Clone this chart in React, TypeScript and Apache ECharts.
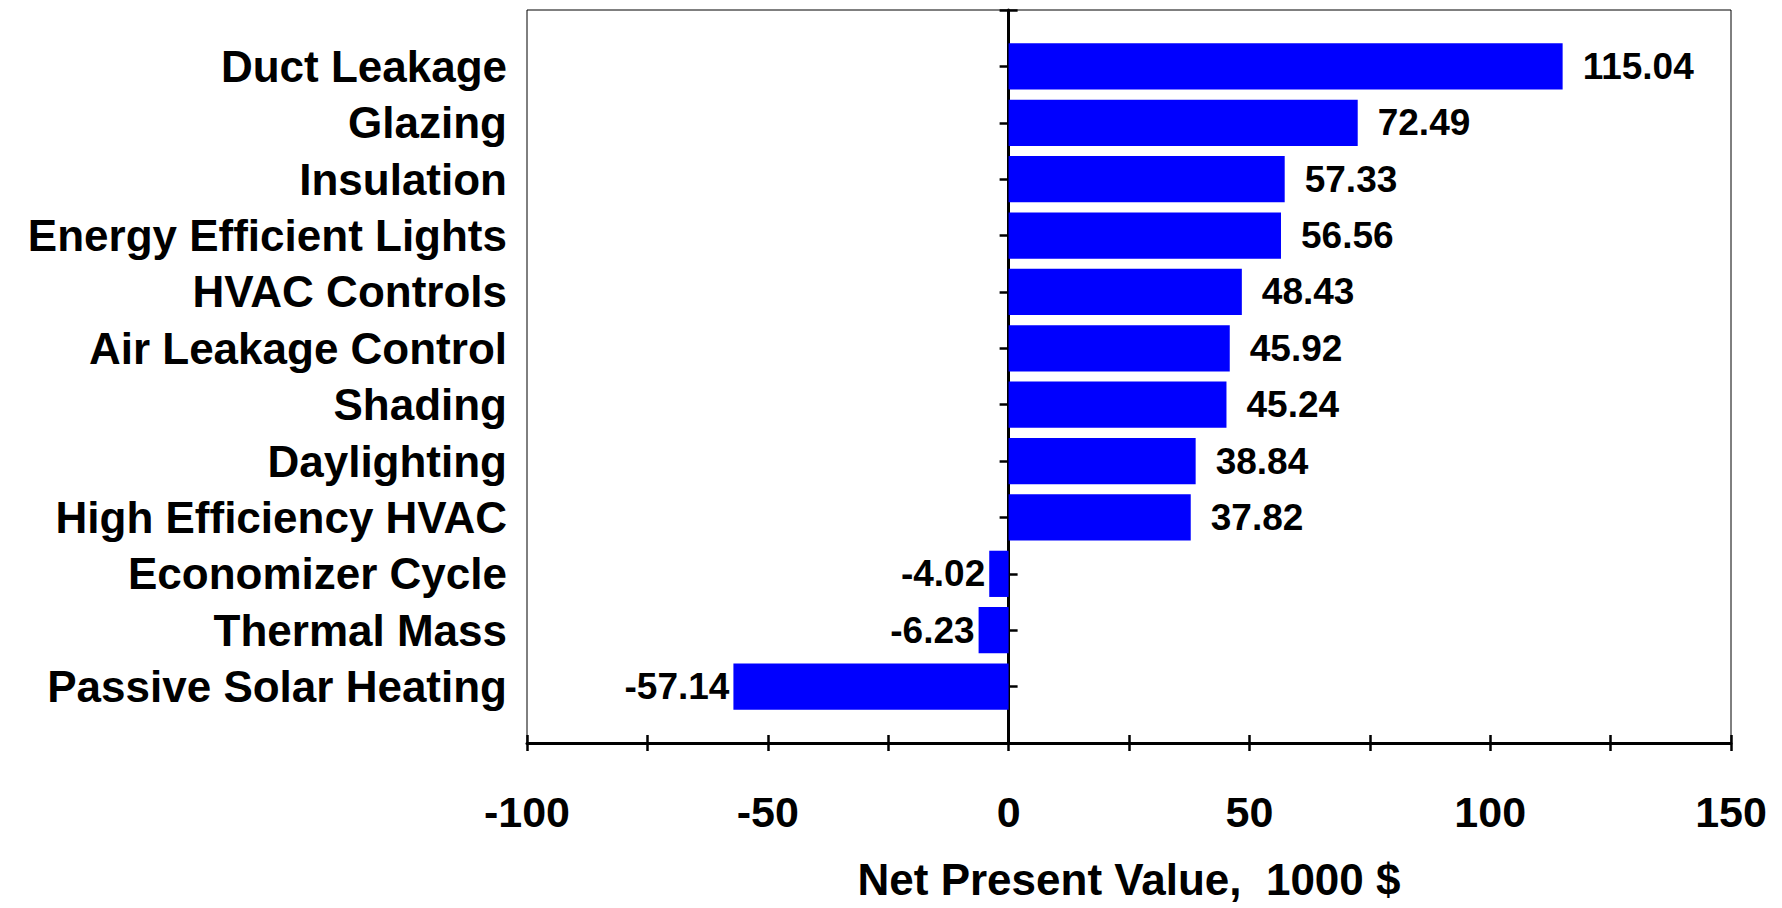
import React, { useEffect, useRef } from "react";
import * as echarts from "echarts";

const categories = [
  "Duct Leakage",
  "Glazing",
  "Insulation",
  "Energy Efficient Lights",
  "HVAC Controls",
  "Air Leakage Control",
  "Shading",
  "Daylighting",
  "High Efficiency HVAC",
  "Economizer Cycle",
  "Thermal Mass",
  "Passive Solar Heating",
];

const npvValues = [115.04, 72.49, 57.33, 56.56, 48.43, 45.92, 45.24, 38.84, 37.82, -4.02, -6.23, -57.14];

const xMin = -100;
const xMax = 150;
const xTickStep = 25;
const xLabelStep = 50;
const xAxisTitle = "Net Present Value,  1000 $";

const FONT = "'Liberation Sans', Arial, sans-serif";

export default function App() {
  const ref = useRef<HTMLDivElement>(null);

  useEffect(() => {
    document.body.style.margin = "0";
    if (!ref.current) return;
    const chart = echarts.init(ref.current, null, { renderer: "svg" });

    // padded category slots so bars sit on the tick marks like the original
    const axisData = ["", ...categories, ""];
    const seriesData: any[] = [
      null,
      ...npvValues.map((v) => ({
        value: v,
        label: {
          position: v < 0 ? "left" : "right",
          distance: v < 0 ? 4 : 20,
        },
      })),
      null,
    ];

    const commonY = {
      type: "category",
      data: axisData,
      inverse: true,
      boundaryGap: false,
      position: "left",
    };

    chart.setOption({
      animation: false,
      backgroundColor: "#ffffff",
      grid: {
        left: 527,
        right: 51,
        top: 10,
        bottom: 165,
        show: true,
        borderColor: "#000000",
        borderWidth: 1,
        backgroundColor: "transparent",
        containLabel: false,
        outerBoundsMode: "none",
      },
      xAxis: [
        {
          type: "value",
          position: "bottom",
          min: xMin,
          max: xMax,
          interval: xTickStep,
          axisLine: { show: true, onZero: false, lineStyle: { color: "#000", width: 3 } },
          axisTick: { show: true, inside: false, length: 8, lineStyle: { color: "#000", width: 2.5 } },
          splitLine: { show: false },
          axisLabel: {
            show: true,
            margin: 47,
            fontSize: 43,
            fontWeight: "bold",
            fontFamily: FONT,
            color: "#000",
            formatter: (v: number) => (v % xLabelStep === 0 ? String(v) : ""),
          },
          name: xAxisTitle,
          nameLocation: "middle",
          nameGap: 116,
          nameTextStyle: {
            fontSize: 44,
            lineHeight: 40,
            fontWeight: "bold",
            fontFamily: FONT,
            color: "#000",
          },
        },
        {
          type: "value",
          position: "bottom",
          min: xMin,
          max: xMax,
          interval: xTickStep,
          axisLine: { show: false, onZero: false },
          axisTick: { show: true, inside: true, length: 8, lineStyle: { color: "#000", width: 2.5 } },
          splitLine: { show: false },
          axisLabel: { show: false },
        },
      ],
      yAxis: [
        {
          ...commonY,
          axisLine: { show: true, onZero: true, lineStyle: { color: "#000", width: 3 } },
          axisTick: { show: true, inside: false, length: 9, lineStyle: { color: "#000", width: 2.5 } },
          axisLabel: { show: false },
          splitLine: { show: false },
        },
        {
          ...commonY,
          axisLine: { show: false, onZero: true },
          axisTick: { show: true, inside: true, length: 9, lineStyle: { color: "#000", width: 2.5 } },
          axisLabel: { show: false },
          splitLine: { show: false },
        },
        {
          ...commonY,
          axisLine: { show: false, onZero: false },
          axisTick: { show: false },
          splitLine: { show: false },
          axisLabel: {
            show: true,
            margin: 20,
            fontSize: 44,
            fontWeight: "bold",
            fontFamily: FONT,
            color: "#000",
            interval: 0,
            padding: [10, 0, 0, 0],
          },
        },
      ],
      series: [
        {
          type: "bar",
          xAxisIndex: 0,
          yAxisIndex: 0,
          data: seriesData,
          barCategoryGap: "18%",
          itemStyle: { color: "#0000ff" },
          z: 1,
          label: {
            show: true,
            fontSize: 37,
            fontWeight: "bold",
            fontFamily: FONT,
            color: "#000",
            formatter: (p: any) => Number(p.value).toFixed(2),
          },
        },
      ],
    });

    return () => chart.dispose();
  }, []);

  return <div ref={ref} style={{ width: 1782, height: 908 }} />;
}
